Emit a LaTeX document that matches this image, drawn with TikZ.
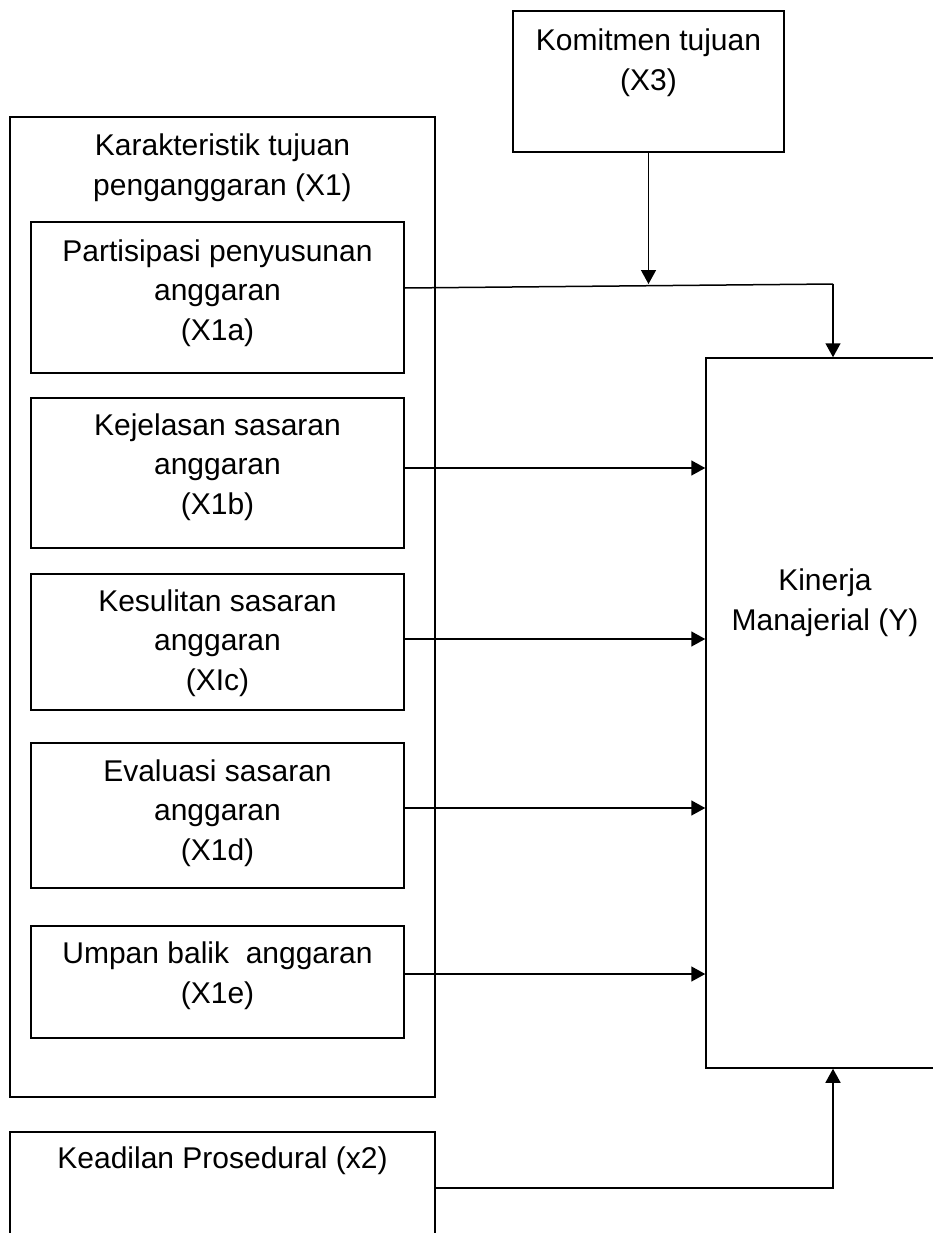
\documentclass[tikz,border=0pt]{standalone}
\usepackage{fontspec}
\setmainfont{Liberation Sans}
\usetikzlibrary{arrows.meta,fit}

\begin{document}
\begin{tikzpicture}[x=0.4pt,y=-0.4pt,
  box/.style={draw,line width=0.6pt,inner sep=0pt},
  lbl/.style={align=center,anchor=base,inner sep=0pt,font=\fontsize{12pt}{15.8pt}\selectfont},
  arr/.style={line width=0.6pt,-{Triangle[length=5.6pt,width=6pt]}}]
\useasboundingbox (0,0) rectangle (933,1233);
\clip (0,0) rectangle (933,1233);
% Karakteristik tujuan (X1) and its parts (labels sit on their last baseline)
\node[box,fit={(10,117) (435,1097)}] (kt) {};
\node[lbl] (ktT) at (222.5,195) {Karakteristik tujuan\\penganggaran (X1)};
\node[box,fit={(31,222) (404,373)}] (pa) {};
\node[lbl] (paT) at (217.5,340) {Partisipasi penyusunan\\anggaran\\(X1a)};
\node[box,fit={(31,398) (404,548)}] (kej) {};
\node[lbl] (kejT) at (217.5,514) {Kejelasan sasaran\\anggaran\\(X1b)};
\node[box,fit={(31,574) (404,710)}] (kes) {};
\node[lbl] (kesT) at (217.5,690) {Kesulitan sasaran\\anggaran\\(XIc)};
\node[box,fit={(31,743) (404,888)}] (eva) {};
\node[lbl] (evaT) at (217.5,860) {Evaluasi sasaran\\anggaran\\(X1d)};
\node[box,fit={(31,926) (404,1038)}] (ump) {};
\node[lbl] (umpT) at (217.5,1003) {Umpan balik\ \ anggaran\\(X1e)};
% Komitmen tujuan (X3)
\node[box,fit={(513,11) (784,152)}] (kom) {};
\node[lbl] (komT) at (648.5,90) {Komitmen tujuan\\(X3)};
% Kinerja Manajerial (Y)
\node[box,fit={(706,358) (944,1068)}] (kin) {};
\node[lbl] (kinT) at (825,630) {Kinerja\\Manajerial (Y)};
% Keadilan Prosedural (x2)
\node[box,fit={(10,1132) (435,1250)}] (kea) {};
\node[lbl] (keaT) at (222.5,1168) {Keadilan Prosedural (x2)};

% connectors
\coordinate (bend) at (833,284);
\draw[line width=0.6pt] ([yshift=3.8pt]pa.east) -- (bend);
\draw[arr] (kom.south) -- (kom.south |- bend);
\draw[arr] (bend) -- (bend |- kin.north);
\foreach \n/\s in {kej/2,kes/1.2,eva/3,ump/3.2}
  \draw[arr] ([yshift=\s pt]\n.east) coordinate (\n o) -- (\n o -| kin.west);
\draw[arr] ([yshift=1.2pt]kea.east) -| (bend |- kin.south);
\end{tikzpicture}
\end{document}
